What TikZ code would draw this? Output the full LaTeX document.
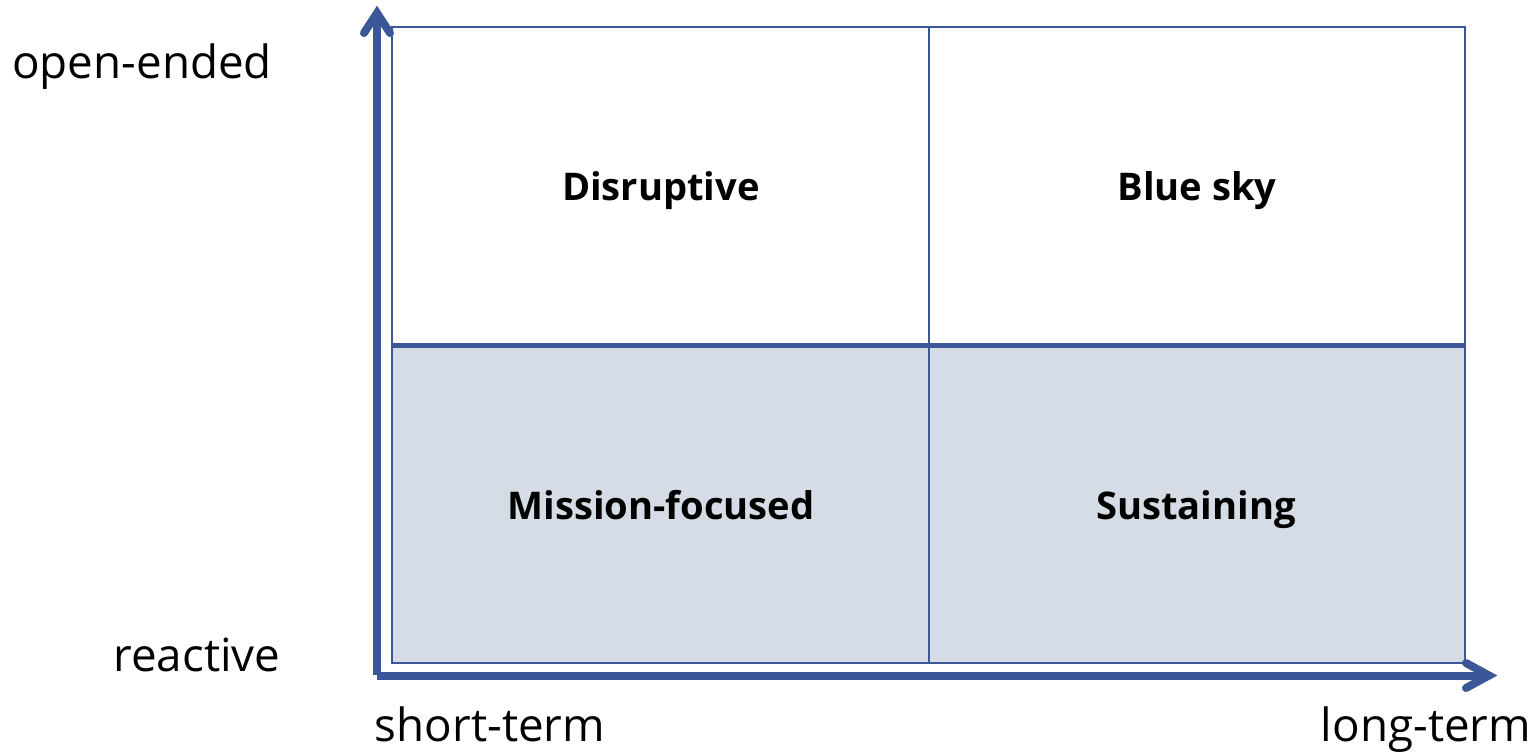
\documentclass[tikz,border=0pt]{standalone}
\usepackage{fontspec}
\setmainfont{Open Sans}
\definecolor{axisblue}{RGB}{59,87,151}
\definecolor{lowfill}{RGB}{214,220,229}
\begin{document}
\begin{tikzpicture}[x=0.75pt,y=-0.75pt,
  axisline/.style={draw=axisblue,line width=6pt,line cap=butt},
  chevron/.style={draw=axisblue,line width=6pt,line cap=round,line join=miter},
  gridline/.style={draw=axisblue,line width=1.7pt},
  midline/.style={draw=axisblue,line width=3.8pt},
  axislabel/.style={font=\fontsize{34.3}{40}\selectfont,text=black,inner sep=0pt,anchor=base},
  quadlabel/.style={font=\fontsize{28.6}{34}\selectfont\bfseries,text=black,inner sep=0pt,anchor=base}]
\useasboundingbox (0,0) rectangle (1537,756);
% fill lower half
\fill[lowfill] (392,345.5) rectangle (1465,663);
% grid
\coordinate (tl) at (392,27);
\coordinate (br) at (1465,663);
\draw[gridline] (tl) rectangle (br);
\coordinate (mt) at (929,27);
\coordinate (mb) at (929,663);
\draw[gridline] (mt) -- (mb);
\coordinate (ml) at (392,345.5);
\coordinate (mr) at (1465,345.5);
\draw[midline] (ml) -- (mr);
% axes
\coordinate (vbot) at (377,675);
\coordinate (vtip) at (377,13);
\coordinate (vl) at (364,33);
\coordinate (vr) at (390,33);
\draw[axisline] (vbot) -- (vtip);
\draw[chevron] (vl) -- (vtip) -- (vr);
\coordinate (hstart) at (377,675.5);
\coordinate (htip) at (1489,675.5);
\coordinate (hu) at (1466,663);
\coordinate (hd) at (1466,688);
\draw[axisline] (hstart) -- (htip);
\draw[chevron] (hu) -- (htip) -- (hd);
% axis labels
\node[axislabel] (open) at (142,79) {open-ended};
\node[axislabel] (react) at (197,671) {reactive};
\node[axislabel] (short) at (490,741) {short-term};
\node[axislabel] (long) at (1426,741) {long-term};
% quadrant labels
\node[quadlabel] (disr) at (661,200) {Disruptive};
\node[quadlabel] (blue) at (1197,200) {Blue sky};
\node[quadlabel] (miss) at (661,519) {Mission-focused};
\node[quadlabel] (sust) at (1196,519) {Sustaining};
\end{tikzpicture}
\end{document}
